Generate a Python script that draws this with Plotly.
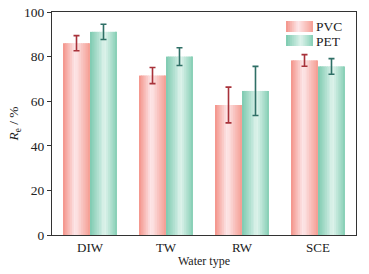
import plotly.graph_objects as go

categories = ["DIW", "TW", "RW", "SCE"]
pvc_values = [86.0, 71.5, 58.3, 78.3]
pvc_errors = [3.4, 3.6, 8.0, 2.6]
pet_values = [91.1, 80.0, 64.6, 75.6]
pet_errors = [3.4, 4.0, 11.0, 3.5]
series_names = ["PVC", "PET"]
y_ticks = [0, 20, 40, 60, 80, 100]

FONT = "Liberation Serif, Times New Roman, serif"

# gradient stops (position across bar, rgb)
pvc_grad = [(0.0, (243, 146, 136)), (0.45, (253, 232, 234)), (1.0, (245, 156, 146))]
pet_grad = [(0.0, (124, 202, 175)), (0.55, (222, 243, 236)), (1.0, (132, 206, 180))]
pvc_err_color = "#a8323a"
pet_err_color = "#2f6f66"


def interp(stops, t):
    for (p0, c0), (p1, c1) in zip(stops[:-1], stops[1:]):
        if p0 <= t <= p1:
            f = (t - p0) / (p1 - p0) if p1 > p0 else 0
            return "rgb(%d,%d,%d)" % tuple(round(a + (b - a) * f) for a, b in zip(c0, c1))
    return "rgb(%d,%d,%d)" % stops[-1][1]


fig = go.Figure()
BW = 0.355
N = 15
step = BW / N


def add_series(values, errors, stops, err_color, start):
    for i in range(N):
        t = (i + 0.5) / N
        w = step * 1.6 if i < N - 1 else step
        fig.add_trace(go.Bar(
            x=categories, y=values,
            offset=start + i * step, width=w,
            marker=dict(color=interp(stops, t), line=dict(width=0)),
            showlegend=False, hoverinfo="skip",
        ))
    # middle strip carries the error bars (centered on bar)
    fig.add_trace(go.Bar(
        x=categories, y=values,
        offset=start + (N // 2) * step, width=step,
        marker=dict(color=interp(stops, (N // 2 + 0.5) / N), line=dict(width=0)),
        error_y=dict(type="data", array=errors, visible=True, color=err_color,
                     thickness=1.6, width=3),
        showlegend=False,
    ))


add_series(pvc_values, pvc_errors, pvc_grad, pvc_err_color, -BW)
add_series(pet_values, pet_errors, pet_grad, pet_err_color, 0.0)

# manual legend with gradient swatches
L, R, T, B = 52, 356, 12, 235
def px(x):
    return (x - L) / (R - L)
def py(y):
    return (B - y) / (B - T)

shapes = []
for (y0, y1), stops in zip([(21, 32), (35, 46)], [pvc_grad, pet_grad]):
    x0, x1 = 286, 313
    M = 14
    sw = (x1 - x0) / M
    for i in range(M):
        shapes.append(dict(type="rect", xref="paper", yref="paper",
                           x0=px(x0 + i * sw), x1=px(x0 + (i + 1.3) * sw if i < M - 1 else x1),
                           y0=py(y1), y1=py(y0),
                           fillcolor=interp(stops, (i + 0.5) / M), line=dict(width=0)))
annotations = []
for name, yc in zip(series_names, [26.5, 41]):
    annotations.append(dict(text=name, xref="paper", yref="paper", x=px(314), y=py(yc),
                            xanchor="left", yanchor="middle", showarrow=False,
                            font=dict(family=FONT, size=13.5, color="#222")))

fig.update_layout(
    width=369, height=274,
    margin=dict(l=52, r=13, t=12, b=39, autoexpand=False),
    paper_bgcolor="white", plot_bgcolor="white",
    barmode="overlay", bargap=0.29,
    showlegend=False,
    shapes=shapes, annotations=annotations,
    font=dict(family=FONT, size=12.5, color="#222"),
)
fig.update_xaxes(
    automargin=False,
    showline=True, linecolor="#333", linewidth=1.3, mirror=True,
    ticks="", tickfont=dict(size=13),
    title=dict(text="Water type", font=dict(size=12), standoff=2),
)
fig.update_yaxes(
    automargin=False,
    range=[0, 100], tickvals=y_ticks, showgrid=False, zeroline=False,
    showline=True, linecolor="#333", linewidth=1.3, mirror=True,
    ticks="outside", ticklen=4, tickwidth=1.2, tickcolor="#333",
    tickfont=dict(size=13.5),
    title=dict(text="<i>R</i><sub>e</sub> / %", font=dict(size=13.5), standoff=2),
)

fig.write_html("out.html", config={"displayModeBar": False},
               post_script="document.body.style.margin='0';")
